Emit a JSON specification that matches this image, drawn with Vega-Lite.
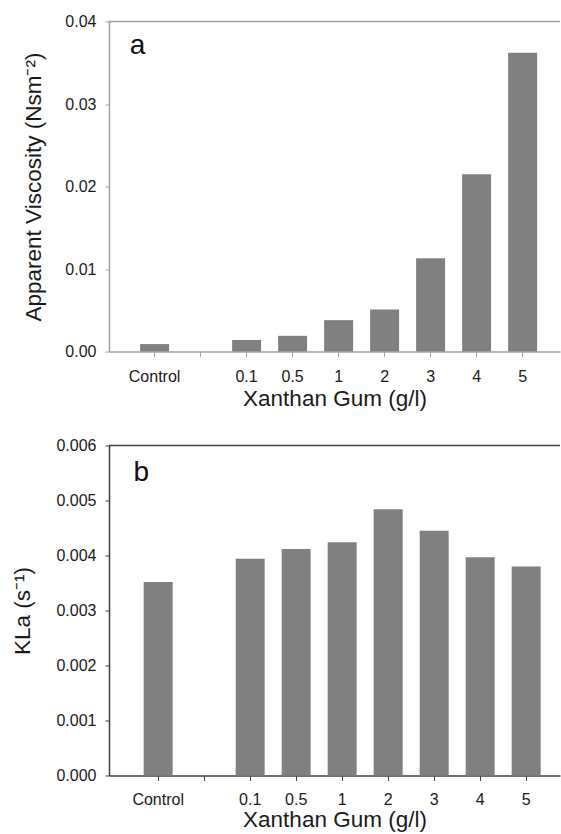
{
  "$schema": "https://vega.github.io/schema/vega-lite/v6.json",
  "background": "white",
  "padding": {"left": 11, "top": 13.5, "right": 0, "bottom": 0},
  "spacing": 27,
  "datasets": {
    "bars": [
      {"conc": "Control", "viscosity": 0.0009, "kla": 0.00352},
      {"conc": "0.1", "viscosity": 0.0014, "kla": 0.00394},
      {"conc": "0.5", "viscosity": 0.0019, "kla": 0.00412},
      {"conc": "1", "viscosity": 0.0038, "kla": 0.00424},
      {"conc": "2", "viscosity": 0.0051, "kla": 0.00484},
      {"conc": "3", "viscosity": 0.0113, "kla": 0.00445},
      {"conc": "4", "viscosity": 0.0215, "kla": 0.00397},
      {"conc": "5", "viscosity": 0.0362, "kla": 0.00380}
    ]
  },
  "config": {
    "view": {"stroke": null},
    "font": "Liberation Sans",
    "axis": {
      "labelFont": "Liberation Sans",
      "titleFont": "Liberation Sans",
      "labelFontSize": 16,
      "titleFontSize": 22.5,
      "titleFontWeight": "normal",
      "labelColor": "#1a1a1a",
      "titleColor": "#1a1a1a",
      "grid": false
    }
  },
  "vconcat": [
    {
      "width": 451,
      "height": 330,
      "layer": [
        {
          "data": {"name": "bars"},
          "mark": {"type": "bar", "color": "#808080"},
          "encoding": {
            "x": {
              "field": "conc",
              "type": "nominal",
              "scale": {"domain": ["Control", " ", "0.1", "0.5", "1", "2", "3", "4", "5"], "paddingInner": 0.37, "paddingOuter": 0.587, "align": 0.576, "round": false},
              "axis": {"title": "Xanthan Gum (g/l)", "labelAngle": 0, "tickSize": 5, "labelPadding": 12, "titlePadding": 3, "domainColor": "#a0a0a0", "tickColor": "#a0a0a0", "domainWidth": 1.5}
            },
            "y": {
              "field": "viscosity",
              "type": "quantitative",
              "scale": {"domain": [0, 0.04]},
              "axis": {"title": "Apparent Viscosity (Nsm⁻²)", "values": [0, 0.01, 0.02, 0.03, 0.04], "format": ".2f", "tickSize": 4, "labelPadding": 9, "titlePadding": 19, "domainColor": "#a0a0a0", "tickColor": "#a0a0a0", "domainWidth": 1.5}
            }
          }
        },
        {
          "data": {"values": [{"panel": "a"}]},
          "mark": {"type": "rule", "color": "#a0a0a0", "strokeWidth": 1.5},
          "encoding": {"y": {"datum": 0.04}}
        },
        {
          "data": {"values": [{"panel": "a"}]},
          "mark": {"type": "text", "fontSize": 28, "font": "Liberation Sans", "color": "#111", "align": "center", "baseline": "alphabetic", "dx": -17},
          "encoding": {"x": {"datum": "Control"}, "y": {"datum": 0.0361}, "text": {"field": "panel"}}
        }
      ]
    },
    {
      "width": 451,
      "height": 330,
      "layer": [
        {
          "data": {"name": "bars"},
          "mark": {"type": "bar", "color": "#808080"},
          "encoding": {
            "x": {
              "field": "conc",
              "type": "nominal",
              "scale": {"domain": ["Control", " ", "0.1", "0.5", "1", "2", "3", "4", "5"], "paddingInner": 0.37, "paddingOuter": 0.587, "align": 0.642, "round": false},
              "axis": {"title": "Xanthan Gum (g/l)", "labelAngle": 0, "tickSize": 5, "labelPadding": 11, "titlePadding": 1, "domainColor": "#404040", "tickColor": "#404040", "domainWidth": 1.5}
            },
            "y": {
              "field": "kla",
              "type": "quantitative",
              "scale": {"domain": [0, 0.006]},
              "axis": {"title": "KLa (s⁻¹)", "values": [0, 0.001, 0.002, 0.003, 0.004, 0.005, 0.006], "format": ".3f", "tickSize": 4, "labelPadding": 9, "titlePadding": 21, "domainColor": "#404040", "tickColor": "#404040", "domainWidth": 1.5}
            }
          }
        },
        {
          "data": {"values": [{"panel": "b"}]},
          "mark": {"type": "rule", "color": "#404040", "strokeWidth": 1.5},
          "encoding": {"y": {"datum": 0.006}}
        },
        {
          "data": {"values": [{"panel": "b"}]},
          "mark": {"type": "text", "fontSize": 28, "font": "Liberation Sans", "color": "#111", "align": "center", "baseline": "alphabetic", "dx": -17},
          "encoding": {"x": {"datum": "Control"}, "y": {"datum": 0.00535}, "text": {"field": "panel"}}
        }
      ]
    }
  ]
}
